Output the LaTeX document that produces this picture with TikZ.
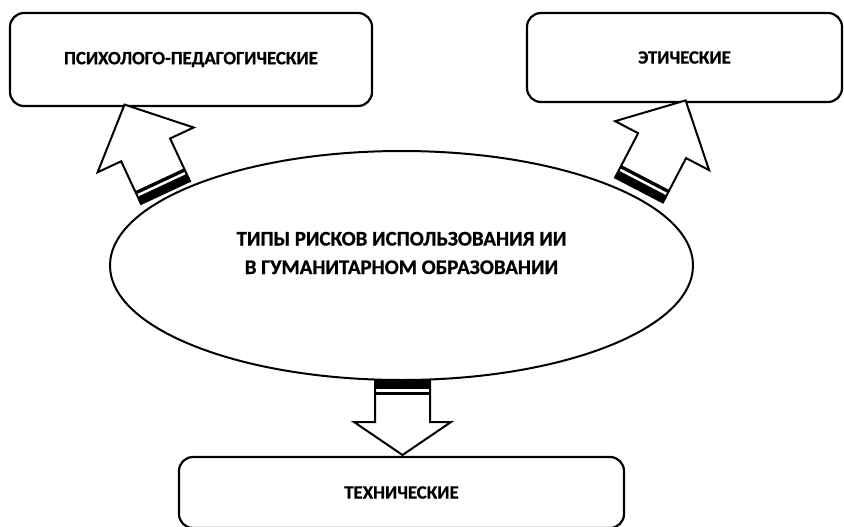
\documentclass[tikz,border=0pt]{standalone}
\usepackage{fontspec}
\setmainfont{Carlito}[BoldFeatures={FakeBold=0.8}]
\usetikzlibrary{shapes.geometric}
\tikzset{
  box/.style={draw, line width=2.2pt, rounded corners=14pt, inner sep=0pt,
    font=\fontsize{18.8}{22}\selectfont\bfseries},
  ellbox/.style={draw, ellipse, line width=2pt, inner sep=0pt},
  eltext/.style={align=center, inner sep=0pt, font=\fontsize{20.8}{28.5}\selectfont\bfseries},
  pics/sarrow/.style n args={4}{code={
     \fill[white] (0,-#3) -- (#2,-#3) -- (#2,-#4) -- (#1,0) -- (#2,#4) -- (#2,#3) -- (0,#3) -- cycle;
     \fill[black] (0,-#3) rectangle (14,#3);
     \fill[white] (8,-#3) rectangle (10.5,#3);
     \draw[line width=2pt, line join=miter] (0,-#3) -- (#2,-#3) -- (#2,-#4) -- (#1,0) -- (#2,#4) -- (#2,#3) -- (0,#3) -- cycle;
  }}
}
\begin{document}
\begin{tikzpicture}[x=1pt,y=-1pt]
\useasboundingbox (0,0) rectangle (844,527);
\node[box, minimum width=362pt, minimum height=93pt] (psy) at (191,59.5) {ПСИХОЛОГО-ПЕДАГОГИЧЕСКИЕ};
\node[box, minimum width=315pt, minimum height=89pt] (eth) at (684.5,57.5) {ЭТИЧЕСКИЕ};
\node[box, minimum width=445pt, minimum height=71pt] (tech) at (401.5,492.5) {ТЕХНИЧЕСКИЕ};
\node[ellbox, minimum width=583pt, minimum height=229pt] (core) at (401.5,265.5) {};
\node[eltext] (coretext) at (401.5,253) {ТИПЫ РИСКОВ ИСПОЛЬЗОВАНИЯ ИИ\\В ГУМАНИТАРНОМ ОБРАЗОВАНИИ};
\pic[rotate=115] at (165.5,192.5) {sarrow={97}{47}{27}{53}};
\pic[rotate=62.5] at (639,190) {sarrow={101}{50}{27}{53}};
\pic[rotate=-90] at (402.5,381) {sarrow={74}{41}{27.5}{48.5}};
\end{tikzpicture}
\end{document}
